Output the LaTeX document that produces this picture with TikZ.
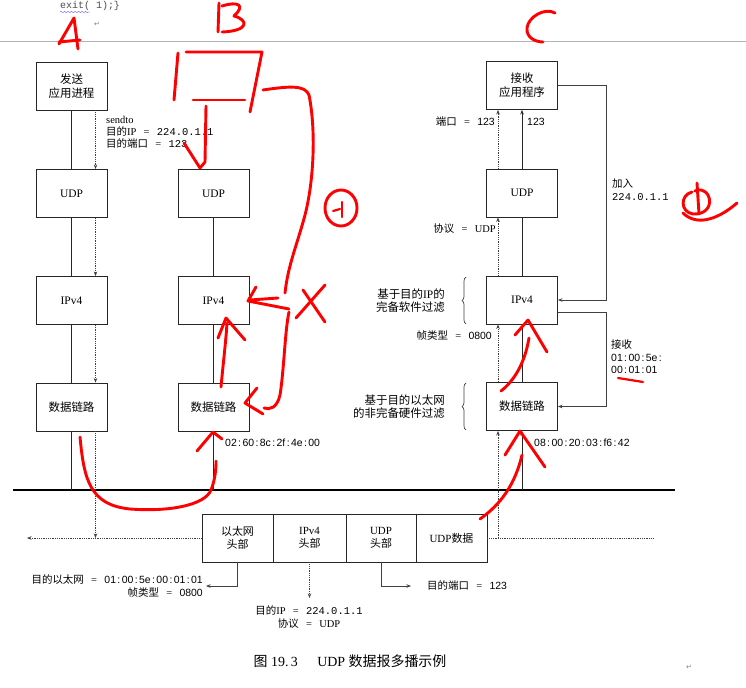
\documentclass[tikz,border=0pt]{standalone}
\usepackage{fontspec}
\setmainfont{Liberation Serif}
\newfontfamily\cjk{Noto Sans CJK SC}
\newfontfamily\snf{Liberation Sans}
\newfontfamily\mnf{Liberation Mono}
\newfontfamily\dvf{DejaVu Sans}
\usetikzlibrary{arrows.meta,decorations.pathreplacing,decorations.pathmorphing}
\newcommand\zh[1]{{\cjk #1}}
\newcommand\ipf[1]{{\mnf #1}}
\newcommand\nmf[1]{{\snf #1}}
\newcommand\eq{\hspace{0.7em}=\hspace{0.7em}}
\newcommand\cl{\kern1.4bp:\kern1.4bp}
\tikzset{
  box/.style={draw=black!85, line width=0.9bp, minimum width=71bp, minimum height=48bp, inner sep=0pt, align=center, font=\fontsize{11.5}{14}\selectfont},
  frbox/.style={draw=black!85, line width=0.9bp, minimum height=48bp, inner sep=0pt, align=center, font=\fontsize{11}{13}\selectfont},
  lab/.style={inner sep=0pt, font=\fontsize{10.5}{12.5}\selectfont},
  biglab/.style={inner sep=0pt, font=\fontsize{11.5}{13}\selectfont},
  ln/.style={line width=0.8bp, black!85},
  thinln/.style={line width=0.7bp, black!75},
  dots/.style={densely dotted, line width=0.8bp, black!75},
  redink/.style={draw=red, line width=2.9bp, line cap=round, line join=round},
}
\begin{document}
\begin{tikzpicture}[x=1bp,y=-1bp,>={Stealth[length=4.5bp,width=3.5bp]}]
\useasboundingbox (0,0) rectangle (746,688);
\fill[white] (0,0) rectangle (746,688);
\clip (0,0) rectangle (746,688);

% header remains of the page
\node[anchor=base west, inner sep=0pt, font=\mnf\fontsize{10}{10}\selectfont, text=black!70] (hdr) at (60,9) {exit( 1);\}};
\draw[blue!60, decorate, decoration={snake, amplitude=0.7bp, segment length=3.5bp}] (60,12) -- (90,12);
\node[inner sep=0pt, font=\dvf\fontsize{7}{7}\selectfont, text=black!50] (ret1) at (97,24) {↵};
\draw[black!30, line width=0.8bp] (0,41) -- (746,41);

% coordinates
\coordinate (ethL) at (13,490);
\coordinate (ethR) at (675,490);
\coordinate (hlL) at (27,538);
\coordinate (hlR) at (653,538);
\coordinate (jx) at (606,0);

% left host (sender)
\node[box] (aapp) at (71.5,86) {\zh{发送}\\\zh{应用进程}};
\node[box] (audp) at (71.5,193.5) {UDP};
\node[box] (aip) at (71.5,300.5) {IPv4};
\node[box] (adl) at (71.5,407) {\zh{数据链路}};

% middle host
\node[box] (budp) at (213.5,193.5) {UDP};
\node[box] (bip) at (213.5,300.5) {IPv4};
\node[box] (bdl) at (213.5,407) {\zh{数据链路}};

% right host (receiver)
\node[box] (capp) at (522,85.5) {\zh{接收}\\\zh{应用程序}};
\node[box] (cudp) at (522,193) {UDP};
\node[box] (cip) at (522,300) {IPv4};
\node[box] (cdl) at (522,406.5) {\zh{数据链路}};

% ethernet
\draw[line width=1.3bp] (ethL) -- (ethR);

% sender lines
\draw[ln] (aapp) -- (audp);
\draw[ln] (audp) -- (aip);
\draw[ln] (aip) -- (adl);
\draw[ln] (adl.south) -- (adl.south |- ethL);
\draw[dots,->] ([xshift=24bp]aapp.south) -- ([xshift=24bp]audp.north);
\draw[dots,->] ([xshift=24bp]audp.south) -- ([xshift=24bp]aip.north);
\draw[dots,->] ([xshift=24bp]aip.south) -- ([xshift=24bp]adl.north);
\draw[dots,->] ([xshift=24bp]adl.south) -- ([xshift=24bp]adl.south |- hlL);

% middle lines
\draw[ln] (budp) -- (bip);
\draw[ln] (bip) -- (bdl);
\draw[ln] (bdl.south) -- (bdl.south |- ethL);

% receiver lines
\draw[ln,->] (cudp) -- (capp);
\draw[ln] (cip) -- (cudp);
\draw[ln] (cdl) -- (cip);
\draw[ln,->] (cdl.south |- ethL) -- (cdl.south);
\draw[dots,->] ([xshift=-24bp]cudp.north) -- ([xshift=-24bp]capp.south);
\draw[dots,->] ([xshift=-24bp]cip.north) -- ([xshift=-24bp]cudp.south);
\draw[dots,->] ([xshift=-24bp]cdl.north) -- ([xshift=-24bp]cip.south);
\draw[dots,->] ([xshift=-24bp]cdl.south |- hlL) -- ([xshift=-24bp]cdl.south);

% join and receive paths
\draw[thinln,->] (capp.east) -- (capp.east -| jx) -- (cip.east -| jx) -- (cip.east);
\draw[thinln,->] ([yshift=-12bp]cip.east) -- ([yshift=-12bp]cip.east -| jx) -- (cdl.east -| jx) -- (cdl.east);

% labels
\node[lab, anchor=north west, align=left, font=\fontsize{10.5}{12}\selectfont] (lsend) at (106,116) {sendto\\\zh{目的}IP\eq\ipf{224.0.1.1}\\\zh{目的端口}\eq\ipf{123}};
\node[lab, anchor=west] (lmacb) at (225,443) {\nmf{02\cl60\cl8c\cl2f\cl4e\cl00}};
\node[lab, anchor=west] (lmacc) at (534,443) {\nmf{08\cl00\cl20\cl03\cl f6\cl42}};
\node[lab, anchor=east] (lport) at (495,122) {\zh{端口}\eq\nmf{123}};
\node[lab, anchor=west] (l123) at (527,122) {\nmf{123}};
\node[lab, anchor=east] (lproto) at (496,229) {\zh{协议}\eq UDP};
\node[lab, anchor=east] (lftype) at (492,336) {\zh{帧类型}\eq\nmf{0800}};
\node[biglab, anchor=east, align=right] (lsw) at (445,300.5) {\zh{基于目的}IP\zh{的}\\\zh{完备软件过滤}};
\node[biglab, anchor=east, align=right] (lhw) at (445,407) {\zh{基于目的以太网}\\\zh{的非完备硬件过滤}};
\draw[thinln, decorate, decoration={brace, amplitude=4bp}] (466,324) -- (466,277);
\draw[thinln, decorate, decoration={brace, amplitude=4bp}] (466,430) -- (466,383);
\node[lab, anchor=north west, align=left] (ljoin) at (612,179) {\zh{加入}\\\ipf{224.0.1.1}};
\node[lab, anchor=north west, align=left] (lrecv) at (611,340) {\zh{接收}\\\nmf{01\cl00\cl5e\cl}\\\nmf{00\cl01\cl01}};

% frame
\node[frbox, minimum width=71bp] (f1) at (237.5,538) {\zh{以太网}\\\zh{头部}};
\node[frbox, minimum width=73bp] (f2) at (309.5,538) {IPv4\\\zh{头部}};
\node[frbox, minimum width=70bp] (f3) at (381,538) {UDP\\\zh{头部}};
\node[frbox, minimum width=71bp] (f4) at (451.5,538) {UDP\zh{数据}};
\draw[dots,->] (f1.west) -- (hlL);
\draw[dots] (f4.east) -- (hlR);

\coordinate (e1) at (206,586);
\coordinate (e2) at (309.5,598);
\coordinate (e3) at (411,586);
\draw[thinln,->] (f1.south) |- (e1);
\draw[dots,->] (f2.south) -- (e2);
\draw[thinln,->] (f3.south) |- (e3);
\node[lab, anchor=east, align=right] (lf1) at (203,586) {\zh{目的以太网}\eq\nmf{01\cl00\cl5e\cl00\cl01\cl01}\\\zh{帧类型}\eq\nmf{0800}};
\node[lab, align=center] (lf2) at (309,617) {\zh{目的}IP\eq\ipf{224.0.1.1}\\\zh{协议}\eq UDP};
\node[lab, anchor=west] (lf3) at (427,586) {\zh{目的端口}\eq\nmf{123}};

% caption
\node[inner sep=0pt, font=\fontsize{14}{14}\selectfont] (cap) at (350,661) {\zh{图} 19.\,3\hspace{1.4em}UDP \zh{数据报多播示例}};
\node[inner sep=0pt, font=\dvf\fontsize{7}{7}\selectfont, text=black!50] (ret2) at (689,667) {↵};

% red hand annotations
\draw[redink] (59,44) -- (74,18) -- (78,49);
\draw[redink] (59,42) -- (80,40);
\draw[redink] (219,3) -- (218,32);
\draw[redink] (222,6) .. controls (238,1) and (246,5) .. (234,16) .. controls (249,20) and (249,31) .. (222,32);
\draw[redink] (555,13) .. controls (545,7) and (528,17) .. (527,28) .. controls (526,38) and (536,42) .. (543,42);

\draw[redink] (178,53) -- (174,100);
\draw[redink] (186,52) -- (262,52) -- (250,112);
\draw[redink] (193,100) -- (245,100);
\draw[redink] (206,106) -- (205,162) -- (200,168) -- (184,143);

\draw[redink] (263,90) .. controls (290,86) and (305,85) .. (309,95) .. controls (316,130) and (314,180) .. (305,215) .. controls (297,245) and (288,265) .. (285,293);
\draw[redink] (278,298) -- (250,300);
\draw[redink] (256,287) -- (248,301) -- (289,309);
\draw[redink] (289,312) .. controls (285,330) and (284,370) .. (280,395) .. controls (277,408) and (270,410) .. (264,408);
\draw[redink] (257,388) -- (245,403) -- (263,414);
\draw[redink] (325,285) -- (296,318);
\draw[redink] (303,290) -- (325,322);
\draw[redink] (341,208) ellipse [x radius=16, y radius=18];
\draw[redink, line width=2.2bp] (333,211) -- (340,209);
\draw[redink, line width=2.2bp] (342,202) -- (342,217);

\draw[redink] (221,387) .. controls (223,365) and (226,340) .. (227,323);
\draw[redink] (218,338) -- (226,318) -- (245,340);
\draw[redink] (80,437) .. controls (84,480) and (90,505) .. (130,509) .. controls (170,512) and (205,505) .. (211,490) .. controls (215,480) and (216,470) .. (216,461);
\draw[redink] (197,451) -- (213,432) -- (222,439);

\draw[redink] (480,519) .. controls (500,505) and (515,485) .. (522,455);
\draw[redink] (505,455) -- (520,431) -- (545,467);
\draw[redink] (501,391) .. controls (515,380) and (525,362) .. (529,338);
\draw[redink] (515,335) -- (528,320) -- (547,352);

\draw[redink] (697,183) -- (699,214);
\draw[redink] (692,192) .. controls (680,195) and (680,212) .. (693,214) .. controls (706,215) and (713,205) .. (708,195) .. controls (704,189) and (698,189) .. (695,191);
\draw[redink] (683,213) .. controls (695,225) and (715,222) .. (737,203);
\draw[redink, line width=2.2bp] (618,378) -- (643,382);
\end{tikzpicture}
\end{document}
